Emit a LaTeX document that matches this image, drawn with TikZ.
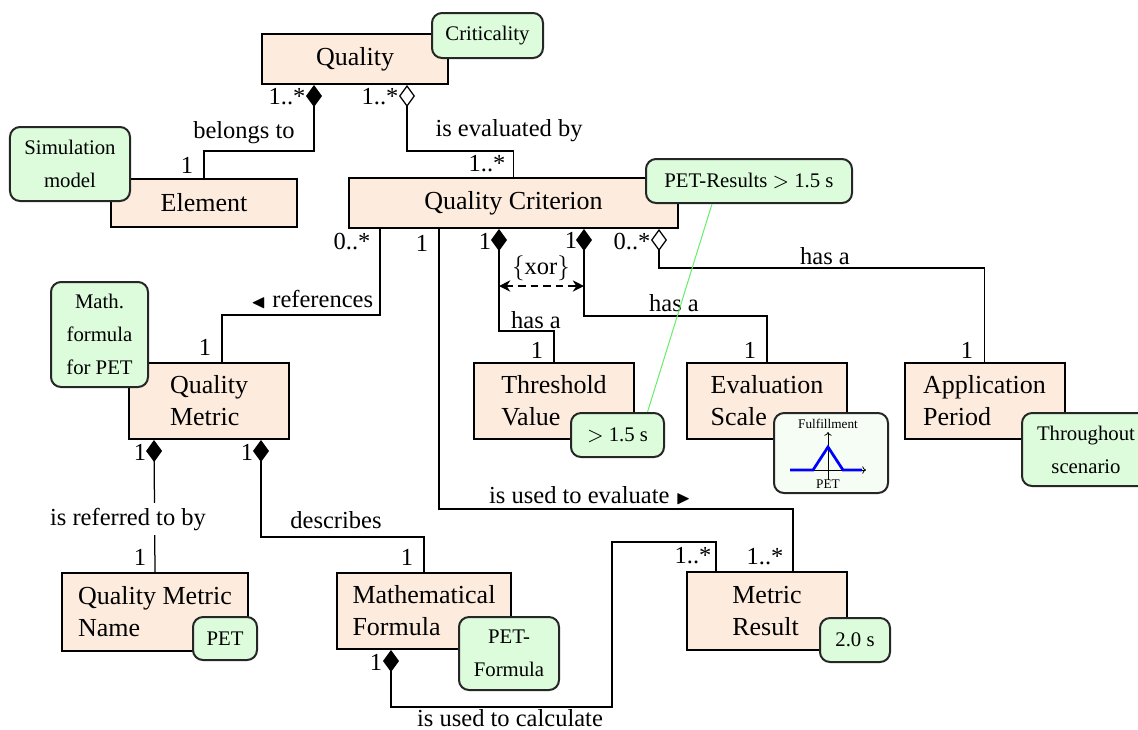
\documentclass[tikz,border=0pt]{standalone}
\usepackage{fontspec}
\setmainfont{Liberation Serif}
\usepackage{amssymb}
\usetikzlibrary{arrows.meta,calc}

\definecolor{umlFill}{HTML}{FDECDD}
\definecolor{noteFill}{HTML}{DCFCDC}
\definecolor{plotFill}{HTML}{F5FDF5}
\definecolor{linkGreen}{HTML}{66EE66}
\newcommand{\boxfont}{\fontsize{10.4}{12.8}\selectfont}
\newcommand{\notefont}{\fontsize{8.3}{13.2}\selectfont}
\newcommand{\plotfont}{\fontsize{5.3}{6}\selectfont}

\begin{document}
\begin{tikzpicture}[x=0.4pt,y=-0.4pt,font=\fontsize{9.8}{11}\selectfont,
  umlbox/.style={draw,line width=0.8pt,fill=umlFill,inner sep=0pt,align=left,font=\boxfont},
  note/.style={draw=black!85,line width=0.8pt,fill=noteFill,rounded corners=4pt,inner sep=0pt,align=center,font=\notefont},
  conn/.style={draw,line width=0.5pt},
  comp/.style={conn,{Diamond[length=8.8pt,width=6.4pt]}-},
  aggr/.style={conn,{Diamond[open,length=8.8pt,width=6.4pt]}-},
  xorlink/.style={line width=0.8pt,dash pattern=on 3pt off 2pt,{Stealth[length=4.5pt,width=4.5pt]}-{Stealth[length=4.5pt,width=4.5pt]}},
  petlink/.style={draw=linkGreen,line width=0.4pt},
  lbl/.style={inner sep=0pt}]
  \useasboundingbox (0,0) rectangle (1138,729);

  % classes
  \node[umlbox,minimum width=74.4pt,minimum height=20pt] (quality) at (355,59) {Quality};
  \node[umlbox,minimum width=74.4pt,minimum height=19.2pt] (element) at (204,203) {Element};
  \node[umlbox,minimum width=131.6pt,minimum height=20pt] (qcrit) at (513.5,203) {Quality Criterion};
  \node[umlbox,minimum width=64pt,minimum height=30.4pt] (qmetric) at (209,401) {Quality\\Metric};
  \node[umlbox,minimum width=64pt,minimum height=30.4pt] (tv) at (554,401) {Threshold\\Value};
  \node[umlbox,minimum width=64pt,minimum height=30.4pt] (es) at (767,401) {Evaluation\\Scale};
  \node[umlbox,minimum width=64pt,minimum height=30.4pt] (ap) at (984.5,401) {Application\\Period};
  \node[umlbox,minimum width=74.4pt,minimum height=31.2pt] (qmn) at (155,612) {Quality Metric\\Name};
  \node[umlbox,minimum width=69.6pt,minimum height=30.4pt] (mf) at (424,611) {Mathematical\\Formula};
  \node[umlbox,minimum width=64pt,minimum height=31.2pt] (mr) at (767,611) {Metric\\Result};

  % associations
  \draw[comp] ($(quality.south west)+(53,0)$) -- ++(0,66) -| (element.north);
  \draw[aggr] ($(quality.south west)+(146,0)$) -- ++(0,66) -| (qcrit.north);
  \draw[conn] ($(qcrit.south west)+(32,0)$) -- ++(0,86) -| ($(qmetric.north)+(13,0)$);
  \draw[conn] ($(qcrit.south west)+(91,0)$) -- ++(0,280) -| ($(mr.north)+(26,0)$);
  \draw[comp] ($(qcrit.south west)+(151,0)$) -- ++(0,102) -| (tv.north);
  \draw[comp] ($(qcrit.south west)+(236,0)$) -- ++(0,87) -| (es.north);
  \draw[aggr] ($(qcrit.south west)+(311,0)$) -- ++(0,39) -| (ap.north);
  \draw[comp] ($(qmetric.south west)+(26,0)$) -- (qmn.north);
  \draw[comp] ($(qmetric.south west)+(133,0)$) -- ++(0,97) -| (mf.north);
  \draw[comp] ($(mf.south west)+(55,0)$) -- ++(0,57) -- ++(221,0) -- ++(0,-165) -| ($(mr.north)+(-51,0)$);
  \coordinate (xorL) at ($(qcrit.south west)+(151,57)$);
  \coordinate (xorR) at ($(qcrit.south west)+(236,57)$);
  \draw[xorlink] (xorL) -- (xorR);

  % association labels
  \node[lbl] (mQualA) at (287,97) {1..*};
  \node[lbl] (mQualB) at (380,97) {1..*};
  \node[lbl] (lBelongs) at (244,133) {belongs to};
  \node[lbl] (mElem) at (187,165) {1};
  \node[lbl] (lEval) at (509,131) {is evaluated by};
  \node[lbl] (mCritTop) at (487,164) {1..*};
  \node[lbl] (mCritRef) at (352,242) {0..*};
  \node[lbl] (mCritUse) at (422,243) {1};
  \node[lbl] (mCritTv) at (485,241) {1};
  \node[lbl] (mCritEs) at (571,240) {1};
  \node[lbl] (mCritAp) at (632,242) {0..*};
  \node[lbl] (lXor) at (541,268) {$\{$xor$\}$};
  \node[lbl] (lHasTv) at (536,320) {has a};
  \node[lbl] (lHasEs) at (674,303) {has a};
  \node[lbl] (lHasAp) at (825,256) {has a};
  \node[lbl] (mTv) at (537,350) {1};
  \node[lbl] (mEs) at (750,350) {1};
  \node[lbl] (mAp) at (967,350) {1};
  \node[lbl] (lRefs) at (312,300) {$\scriptstyle\blacktriangleleft$ references};
  \node[lbl] (mQm) at (205,347) {1};
  \node[lbl] (mQmA) at (140,452) {1};
  \node[lbl] (mQmB) at (247,452) {1};
  \node[lbl,fill=white,inner sep=2pt] (lReferred) at (128,519) {is referred to by};
  \node[lbl] (lDescr) at (336,520) {describes};
  \node[lbl] (mQmn) at (140,557) {1};
  \node[lbl] (mMf) at (407,557) {1};
  \node[lbl] (lUseEval) at (590,496) {is used to evaluate $\scriptstyle\blacktriangleright$};
  \node[lbl] (mMrA) at (693,556) {1..*};
  \node[lbl] (mMrB) at (765,557) {1..*};
  \node[lbl] (mMfB) at (376,662) {1};
  \node[lbl] (lUseCalc) at (510,718) {is used to calculate};

  % notes
  \node[note,minimum width=44.4pt,minimum height=18pt] (crit) at (487.5,35.5) {Criticality};
  \node[note,minimum width=48pt,minimum height=29.6pt] (simnote) at (70,164) {Simulation\\model};
  \node[note,minimum width=38.8pt,minimum height=42pt] (mathnote) at (99.5,334.5) {Math.\\formula\\for PET};
  \node[note,minimum width=82.4pt,minimum height=17.6pt] (pet) at (749,181) {PET-Results $>$ 1.5 s};
  \node[note,minimum width=37.2pt,minimum height=17.6pt] (tvn) at (617.5,435) {$>$ 1.5 s};
  \node[note,fill=plotFill,minimum width=45.6pt,minimum height=32pt] (esn) at (831,453) {};
  \node[note,minimum width=51.2pt,minimum height=29.2pt] (apn) at (1086,449.5) {Throughout\\scenario};
  \node[note,minimum width=25.6pt,minimum height=17.2pt] (qmnn) at (225,638.5) {PET};
  \node[note,minimum width=40pt,minimum height=29.2pt] (mfn) at (509,653.5) {PET-\\Formula};
  \node[note,minimum width=28pt,minimum height=17.6pt] (mrn) at (855,640) {2.0 s};
  \draw[petlink] ($(pet.south)+(-37,0)$) -- ($(tvn.north)+(30,0)$);

  % scale plot
  \begin{scope}[shift={(esn.center)}]
    \node[font=\plotfont,inner sep=0pt] (fulfil) at (-3,-29) {Fulfillment};
    \draw[line width=0.3pt,-{To[length=1.5pt,width=3pt]}] (-3,27) -- (-3,-21);
    \draw[line width=0.3pt,-{To[length=1.5pt,width=3pt]}] (-41,17) -- (35,17);
    \draw[blue,line width=1.1pt] (-41,17) -- (-18,17) -- (-3,-6) -- (12,17) -- (31,17);
    \node[font=\plotfont,inner sep=0pt] (petaxis) at (-3,31) {PET};
  \end{scope}
\end{tikzpicture}
\end{document}
